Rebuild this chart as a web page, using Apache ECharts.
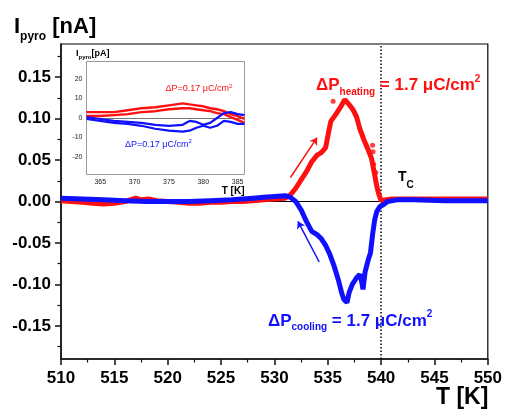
<!DOCTYPE html>
<html>
<head>
<meta charset="utf-8">
<script src="https://cdn.jsdelivr.net/npm/echarts@6/dist/echarts.min.js"></script>
<style>
  html, body { margin: 0; padding: 0; background: #fff; }
  #chart { width: 505px; height: 417px; }
</style>
</head>
<body>
<div id="chart"></div>
<script>
// main plot: pyro current while heating (red) and cooling (blue)
var heatT = [510, 511, 512, 513, 514, 515, 516, 517, 517.5, 518.2, 519, 520, 521, 522, 523, 524, 525, 526, 527, 528, 529, 530, 531,
  531.5, 532, 532.5, 533, 533.5, 534, 534.4, 534.8, 535.1, 535.3, 535.8, 536.2, 536.6, 537.0, 537.4, 537.7, 538.0, 538.4, 538.8,
  539.1, 539.4, 539.6, 539.8, 540.0, 540.5, 541, 543, 545, 547, 550];
var heatI = [0.001, 0.000, -0.001, -0.002, -0.003, -0.002, 0.000, 0.004, 0.002, 0.003, 0.001, 0.000, -0.001, -0.002, -0.002, -0.001, -0.001, 0.000, 0.000, 0.001, 0.002, 0.003, 0.004,
  0.008, 0.016, 0.026, 0.036, 0.048, 0.056, 0.059, 0.065, 0.085, 0.097, 0.106, 0.114, 0.123, 0.117, 0.110, 0.102, 0.088, 0.074, 0.062,
  0.052, 0.032, 0.018, 0.008, 0.001, 0.002, 0.003, 0.003, 0.003, 0.003, 0.003];
// loose points around the heating peak
var heatDotT = [535.5, 539.2, 539.25, 539.3, 539.5];
var heatDotI = [0.121, 0.068, 0.060, 0.045, 0.035];

var coolT = [510, 512, 514, 516, 518, 520, 522, 524, 526, 528, 529, 530, 531, 531.5, 532, 532.5, 533, 533.5, 534, 534.4, 534.8,
  535.2, 535.6, 536.0, 536.3, 536.5, 536.8, 537.0, 537.3, 537.7, 538.0, 538.2, 538.3, 538.5, 538.8, 539.0, 539.2, 539.4, 539.6,
  539.9, 540.2, 540.6, 541.5, 543, 546, 550];
var coolI = [0.004, 0.003, 0.002, 0.001, 0.000, 0.000, 0.000, 0.001, 0.002, 0.004, 0.005, 0.006, 0.007, 0.005, 0.000, -0.010, -0.024, -0.036, -0.040, -0.045, -0.053,
  -0.064, -0.078, -0.095, -0.110, -0.118, -0.122, -0.110, -0.100, -0.092, -0.088, -0.098, -0.106, -0.085, -0.070, -0.062, -0.040, -0.022, -0.012,
  -0.006, -0.004, 0.000, 0.002, 0.002, 0.001, 0.001];

var yTicksMain = [-0.15, -0.10, -0.05, 0, 0.05, 0.10, 0.15];
var yMinorMain = [-0.175, -0.125, -0.075, -0.025, 0.025, 0.075, 0.125, 0.175];

// inset: small signal, two sweeps of each colour [pA]
var insetT = [363, 365, 367, 369, 371, 373, 375, 377, 378, 379, 380, 381, 382, 383, 384, 385, 386];
var insetRedA = [3, 3, 3, 4, 5, 5.5, 6.5, 7.5, 7, 6.5, 6, 5, 4.5, 3.5, 2, 1, -0.5];
var insetRedB = [1, 1, 1.5, 2, 3, 3.5, 4.5, 5, 5, 4.5, 4, 3.5, 2.5, 2, 0.5, -1, -2.5];
var insetBlueA = [0.5, -0.5, -1.5, -2, -2.5, -3.5, -4, -3.5, -1.5, -2, -3.5, -2.5, 0, 2.5, 3, 2, 1.5];
var insetBlueB = [-0.5, -1.5, -2.5, -3, -4, -5.5, -6.5, -7, -6.5, -5, -4, -5, -4, -1.5, -2, -3, -3];
var insetTicksX = [365, 370, 375, 380, 385];
var insetTicksY = [-20, -10, 0, 10, 20];

function pairs(xs, ys) {
  return xs.map(function (x, i) { return [x, ys[i]]; });
}

var RED = '#ff1010';
var BLUE = '#1010ff';
var FONT = '"Liberation Sans", Arial, sans-serif';

var chart = echarts.init(document.getElementById('chart'));

var option = {
  animation: false,
  backgroundColor: '#fff',
  textStyle: { fontFamily: FONT },
  grid: [
    { left: 61, top: 44, width: 430, height: 315, show: true, borderColor: '#000', borderWidth: 1.2, backgroundColor: '#fff' },
    { left: 86.5, top: 61.5, width: 158, height: 113, show: true, borderColor: '#9a9a9a', borderWidth: 1, backgroundColor: '#fff' }
  ],
  xAxis: [
    {
      gridIndex: 0, type: 'value', min: 510, max: 550, interval: 5,
      axisLine: { onZero: false, lineStyle: { color: '#111', width: 1.5 } },
      axisTick: { length: 6, lineStyle: { color: '#111', width: 1.5 } },
      minorTick: { show: true, splitNumber: 2, length: 3.5, lineStyle: { color: '#111', width: 1.2 } },
      axisLabel: { fontSize: 17, fontWeight: 'bold', color: '#000', margin: 11, fontFamily: FONT },
      splitLine: { show: false }, minorSplitLine: { show: false }
    },
    {
      gridIndex: 1, type: 'value', min: 363, max: 386,
      axisLine: { show: false }, axisTick: { show: false },
      axisLabel: { customValues: insetTicksX, fontSize: 7, color: '#222', margin: 4, fontFamily: FONT },
      splitLine: { show: false }
    }
  ],
  yAxis: [
    {
      gridIndex: 0, type: 'value', min: -0.19, max: 0.19, position: 'left',
      axisLine: { show: true, onZero: false, lineStyle: { color: '#111', width: 1.5 } },
      axisTick: { show: true, customValues: yTicksMain, length: 6, lineStyle: { color: '#111', width: 1.5 } },
      axisLabel: {
        customValues: yTicksMain, fontSize: 17, fontWeight: 'bold', color: '#000', margin: 10, fontFamily: FONT,
        formatter: function (v) { return v.toFixed(2); }
      },
      splitLine: { show: false }
    },
    {
      gridIndex: 0, type: 'value', min: -0.19, max: 0.19, position: 'left',
      axisLine: { show: false },
      axisTick: { show: true, customValues: yMinorMain, length: 3.5, lineStyle: { color: '#111', width: 1.2 } },
      axisLabel: { show: false },
      splitLine: { show: false }
    },
    {
      gridIndex: 1, type: 'value', min: -29, max: 29, position: 'left',
      axisLine: { show: false }, axisTick: { show: false },
      axisLabel: { customValues: insetTicksY, fontSize: 7, color: '#222', margin: 4, fontFamily: FONT },
      splitLine: { show: false }
    }
  ],
  series: [
    {
      name: 'heating', type: 'line', xAxisIndex: 0, yAxisIndex: 0,
      data: pairs(heatT, heatI), showSymbol: false, z: 2,
      lineStyle: { color: RED, width: 5 }, itemStyle: { color: RED },
      markLine: {
        z: 1, silent: true, symbol: 'none', label: { show: false }, animation: false,
        data: [
          { yAxis: 0, lineStyle: { color: '#000', width: 1, type: 'solid' } },
          { xAxis: 540, lineStyle: { color: '#000', width: 1.5, type: [1.5, 2] } },
          [
            { coord: [531.5, 0.029], symbol: 'none', lineStyle: { color: RED, width: 1.5, type: 'solid' } },
            { coord: [534.0, 0.077], symbol: 'arrow', symbolSize: 7 }
          ]
        ]
      }
    },
    {
      name: 'heating dots', type: 'scatter', xAxisIndex: 0, yAxisIndex: 0,
      data: pairs(heatDotT, heatDotI), symbolSize: 5, itemStyle: { color: RED }, z: 2
    },
    {
      name: 'cooling', type: 'line', xAxisIndex: 0, yAxisIndex: 0,
      data: pairs(coolT, coolI), showSymbol: false, z: 3,
      lineStyle: { color: BLUE, width: 5 }, itemStyle: { color: BLUE },
      markLine: {
        silent: true, symbol: 'none', label: { show: false }, animation: false,
        data: [
          [
            { coord: [534.2, -0.073], symbol: 'none', lineStyle: { color: BLUE, width: 1.5, type: 'solid' } },
            { coord: [532.2, -0.024], symbol: 'arrow', symbolSize: 7 }
          ]
        ]
      }
    },
    {
      type: 'line', xAxisIndex: 1, yAxisIndex: 2, data: pairs(insetT, insetRedA), showSymbol: false, z: 2,
      lineStyle: { color: RED, width: 2.4 },
      markLine: {
        z: 1, silent: true, symbol: 'none', label: { show: false },
        data: [{ yAxis: 0, lineStyle: { color: '#777', width: 1, type: 'solid' } }]
      }
    },
    { type: 'line', xAxisIndex: 1, yAxisIndex: 2, data: pairs(insetT, insetRedB), showSymbol: false, z: 2, lineStyle: { color: RED, width: 2.4 } },
    { type: 'line', xAxisIndex: 1, yAxisIndex: 2, data: pairs(insetT, insetBlueA), showSymbol: false, z: 3, lineStyle: { color: BLUE, width: 2.2 } },
    { type: 'line', xAxisIndex: 1, yAxisIndex: 2, data: pairs(insetT, insetBlueB), showSymbol: false, z: 3, lineStyle: { color: BLUE, width: 2.2 } }
  ],
  graphic: [
    {
      type: 'text', x: 14, y: 10, z: 10,
      style: {
        text: '{a|I}{s|pyro}{a| [nA]}', align: 'left', verticalAlign: 'top', fill: '#000',
        rich: {
          a: { fontSize: 22, fontWeight: 'bold', lineHeight: 33, verticalAlign: 'middle', fontFamily: FONT },
          s: { fontSize: 12, fontWeight: 'bold', lineHeight: 12, verticalAlign: 'bottom', fontFamily: FONT }
        }
      }
    },
    {
      type: 'text', x: 316, y: 74, z: 10,
      style: {
        text: '{a|ΔP}{s|heating}{a| = 1.7 μC/cm}{p|2}', align: 'left', verticalAlign: 'top', fill: RED,
        rich: {
          a: { fontSize: 17, fontWeight: 'bold', lineHeight: 23, verticalAlign: 'middle', fontFamily: FONT },
          s: { fontSize: 10, fontWeight: 'bold', lineHeight: 10, verticalAlign: 'bottom', fontFamily: FONT },
          p: { fontSize: 10, fontWeight: 'bold', lineHeight: 15, verticalAlign: 'top', fontFamily: FONT }
        }
      }
    },
    {
      type: 'text', x: 268, y: 309.4, z: 10,
      style: {
        text: '{a|ΔP}{s|cooling}{a| = 1.7 μC/cm}{p|2}', align: 'left', verticalAlign: 'top', fill: BLUE,
        rich: {
          a: { fontSize: 17, fontWeight: 'bold', lineHeight: 23, verticalAlign: 'middle', fontFamily: FONT },
          s: { fontSize: 10, fontWeight: 'bold', lineHeight: 10, verticalAlign: 'bottom', fontFamily: FONT },
          p: { fontSize: 10, fontWeight: 'bold', lineHeight: 15, verticalAlign: 'top', fontFamily: FONT }
        }
      }
    },
    {
      type: 'text', x: 398, y: 163.6, z: 10,
      style: {
        text: '{a|T}{s|C}', align: 'left', verticalAlign: 'top', fill: '#000',
        rich: {
          a: { fontSize: 14, fontWeight: 'bold', lineHeight: 26.4, verticalAlign: 'middle', fontFamily: FONT },
          s: { fontSize: 10, fontWeight: 'bold', lineHeight: 10, verticalAlign: 'bottom', fontFamily: FONT }
        }
      }
    },
    {
      type: 'text', x: 436, y: 398, z: 10,
      style: { text: 'T [K]', align: 'left', verticalAlign: 'middle', fill: '#000', font: 'bold 23px ' + FONT }
    },
    {
      type: 'text', x: 76, y: 48, z: 10,
      style: {
        text: '{a|I}{s|pyro}{a|[pA]}', align: 'left', verticalAlign: 'top', fill: '#000',
        rich: {
          a: { fontSize: 9, fontWeight: 'bold', lineHeight: 12, verticalAlign: 'middle', fontFamily: FONT },
          s: { fontSize: 6, fontWeight: 'bold', lineHeight: 6, verticalAlign: 'bottom', fontFamily: FONT }
        }
      }
    },
    {
      type: 'text', x: 244.5, y: 191, z: 10,
      style: { text: 'T [K]', align: 'right', verticalAlign: 'middle', fill: '#000', font: 'bold 10px ' + FONT }
    },
    {
      type: 'text', x: 165.5, y: 83, z: 10,
      style: {
        text: '{a|ΔP=0.17 μC/cm}{p|2}', align: 'left', verticalAlign: 'top', fill: RED,
        rich: {
          a: { fontSize: 9, lineHeight: 12, verticalAlign: 'middle', fontFamily: FONT },
          p: { fontSize: 6, lineHeight: 7.6, verticalAlign: 'top', fontFamily: FONT }
        }
      }
    },
    {
      type: 'text', x: 125, y: 138.3, z: 10,
      style: {
        text: '{a|ΔP=0.17 μC/cm}{p|2}', align: 'left', verticalAlign: 'top', fill: BLUE,
        rich: {
          a: { fontSize: 9, lineHeight: 12, verticalAlign: 'middle', fontFamily: FONT },
          p: { fontSize: 6, lineHeight: 7.6, verticalAlign: 'top', fontFamily: FONT }
        }
      }
    }
  ]
};

chart.setOption(option);
</script>
</body>
</html>
